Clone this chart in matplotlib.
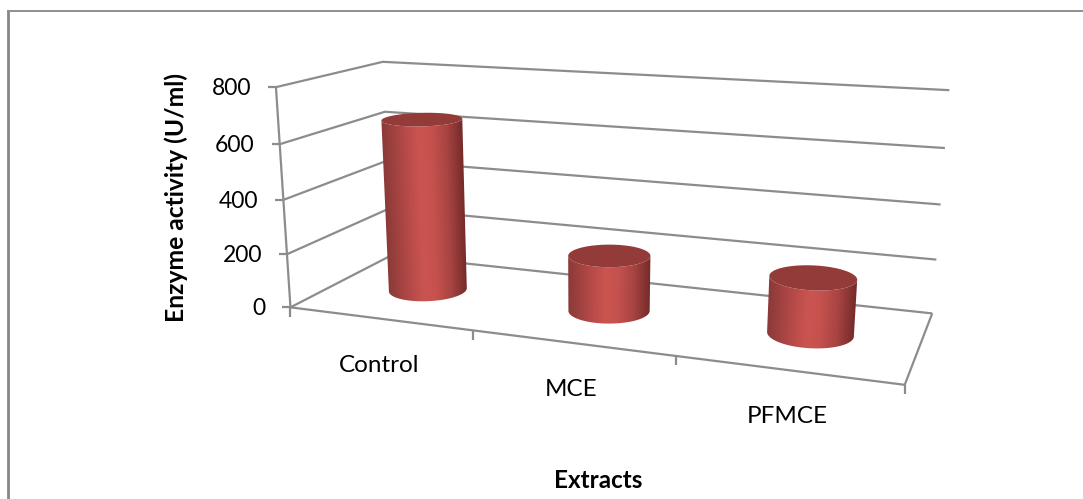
import matplotlib
matplotlib.use("Agg")
import matplotlib.pyplot as plt
import numpy as np
from matplotlib.patches import Polygon

plt.rcParams["font.family"] = ["Lato", "DejaVu Sans"]

categories = ["Control", "MCE", "PFMCE"]
activity = [650, 205, 200]
value_ticks = [0, 200, 400, 600, 800]

W, H = 1083, 499
LINE = "#8c8c8c"
TOP = "#933b38"

# box corners (category pos, depth, value) -> where they sit on the image
CALIB = [
    ((0, 0, 0), (291, 307)),
    ((0, 0, 800), (276, 87.5)),
    ((3, 0, 0), (905, 385)),
    ((1, 0, 0), (472, 330)),
    ((2, 0, 0), (676, 356)),
    ((0, 1, 0), (391, 256)),
    ((0, 1, 800), (383, 61)),
    ((3, 1, 0), (932, 313)),
    ((3, 1, 800), (949, 90.5)),
    ((3, 1, 400), (941, 204.5)),
    ((0, 1, 400), (387, 161)),
    ((0, 0, 400), (283, 200)),
]


def fit_camera():
    rows = []
    for (x, z, v), (u, w) in CALIB:
        p = [x, z, v / 800.0, 1.0]
        rows.append(p + [0, 0, 0, 0] + [-u * c for c in p])
        rows.append([0, 0, 0, 0] + p + [-w * c for c in p])
    _, _, vt = np.linalg.svd(np.array(rows, dtype=float))
    return vt[-1].reshape(3, 4)


CAM = fit_camera()


def project(x, z, v):
    x, z, v = np.broadcast_arrays(x, z, np.asarray(v, dtype=float) / 800.0)
    pts = np.stack([x, z, v, np.ones_like(x, dtype=float)])
    out = CAM @ pts
    return out[0] / out[2], out[1] / out[2]


def shade(t):
    stops = [0.0, 0.3, 0.45, 0.6, 0.8, 1.0]
    reds = [0x8a, 0xb8, 0xca, 0xc6, 0xa8, 0x74]
    greens = [0x3a, 0x4b, 0x54, 0x52, 0x44, 0x2b]
    blues = [0x38, 0x49, 0x50, 0x4e, 0x42, 0x2a]
    return np.dstack([np.interp(t, stops, reds), np.interp(t, stops, greens), np.interp(t, stops, blues)]) / 255


def seg(ax, x, z, v, lw=1.6):
    px, py = project(np.array(x, dtype=float), np.array(z, dtype=float), np.array(v, dtype=float))
    ax.plot(px, py, color=LINE, lw=lw, solid_capstyle="butt", zorder=2)


def cylinder(ax, cx, value, rx=0.2, rz=0.2, cz=0.5, z=3):
    th = np.linspace(0, 2 * np.pi, 361)[:-1]
    xs = cx + rx * np.cos(th)
    zs = cz + rz * np.sin(th)
    bx, by = project(xs, zs, 0 * th)
    tx, ty = project(xs, zs, 0 * th + value)
    # the ellipse is skewed, so walk the near arc between its screen extremes
    il = int(np.argmin(bx))
    ir = int(np.argmax(bx))
    n = (ir - il) % len(th)
    idx = [(il + k) % len(th) for k in range(n + 1)]

    # horizontal shading, measured between the two slanted side edges
    x0, x1 = int(min(bx.min(), tx.min())) - 2, int(max(bx.max(), tx.max())) + 3
    y0, y1 = int(min(by.min(), ty.min())) - 2, int(max(by.max(), ty.max())) + 3
    gx, gy = np.meshgrid(np.arange(x0, x1) + 0.5, np.arange(y0, y1) + 0.5)
    left = tx[il] + (gy - ty[il]) / (by[il] - ty[il]) * (bx[il] - tx[il])
    right = tx[ir] + (gy - ty[ir]) / (by[ir] - ty[ir]) * (bx[ir] - tx[ir])
    t = np.clip((gx - left) / (right - left), 0, 1)
    im = ax.imshow(shade(t), extent=(x0, x1, y1, y0), aspect="auto", interpolation="nearest", zorder=z)
    outline = list(zip(bx[idx], by[idx])) + list(zip(tx[idx][::-1], ty[idx][::-1]))
    im.set_clip_path(Polygon(outline, closed=True, transform=ax.transData))
    ax.fill(tx, ty, color=TOP, lw=0, zorder=z + 0.5)


fig = plt.figure(figsize=(W / 100, H / 100), dpi=100)
ax = fig.add_axes([0, 0, 1, 1])
ax.axis("off")

# outer chart frame
ax.plot([8, 8], [H, 10.5], color="#868686", lw=2.0, solid_capstyle="butt", zorder=1)
ax.plot([7, W], [10.5, 10.5], color="#868686", lw=1.3, solid_capstyle="butt", zorder=1)

# gridlines on side wall and back wall
for v in value_ticks:
    seg(ax, [0, 0, 3], [0, 1, 1], [v, v, v])
    fx, fy = project(0.0, 0.0, v)
    ax.plot([fx - 8, fx], [fy, fy], color=LINE, lw=1.6, solid_capstyle="butt", zorder=2)
    ax.text(fx - 25, fy + 1.5, str(v), ha="right", va="center", fontsize=16.5, color="black")

# value axis, floor edges
seg(ax, [0, 0], [0, 0], [0, 800])
seg(ax, [0, 3, 3], [0, 0, 1], [0, 0, 0])

# category ticks and labels
for i in range(len(categories) + 1):
    fx, fy = project(float(i), 0.0, 0)
    ax.plot([fx, fx], [fy, fy + 9.5], color=LINE, lw=1.6, solid_capstyle="butt", zorder=2)
for i, name in enumerate(categories):
    fx, fy = project(i + 0.5, 0.0, 0)
    ax.text(fx, fy + 47, name, ha="center", va="center", fontsize=17.5, color="black")

for i, val in enumerate(activity):
    cylinder(ax, i + 0.5, val, z=3 + i)

ax.text(598, 481, "Extracts", ha="center", va="center", fontsize=17.5, fontweight="bold", color="black")
ax.text(176, 197, "Enzyme activity (U/ml)", ha="center", va="center", rotation=90, fontsize=17.7, fontweight="bold", color="black")

# imshow resets the limits, so they go last
ax.set_xlim(0, W)
ax.set_ylim(H, 0)

fig.savefig("out.png", dpi=100, facecolor="white")
